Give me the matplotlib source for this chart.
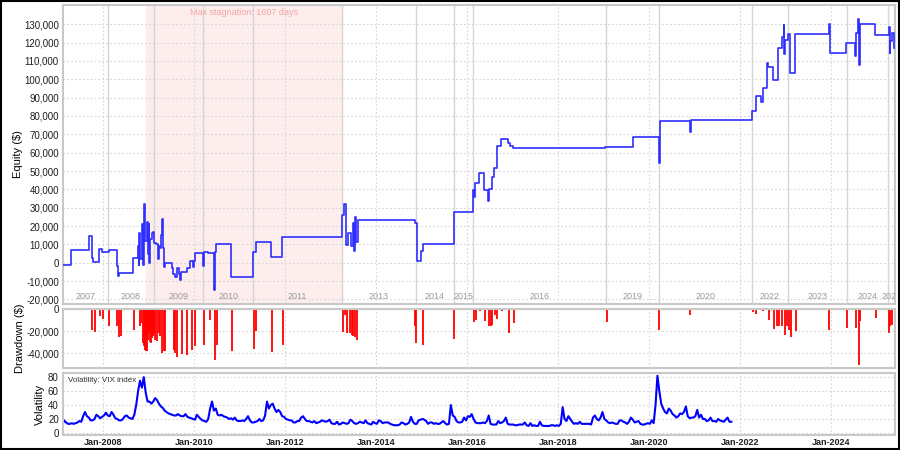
import matplotlib
matplotlib.use("Agg")
import matplotlib.pyplot as plt
from matplotlib.patches import Rectangle
from matplotlib.ticker import FuncFormatter

plt.rcParams['font.family'] = ['Liberation Sans', 'DejaVu Sans']

# equity curve (decimal year, $) - step series
eq_t = [2007.12, 2007.29, 2007.70, 2007.75, 2007.79, 2007.92, 2007.97, 2008.14, 2008.31, 2008.34,
        2008.36, 2008.65, 2008.76, 2008.78, 2008.80, 2008.82, 2008.85, 2008.87, 2008.89, 2008.91,
        2008.93, 2008.96, 2008.98, 2009.00, 2009.02, 2009.04, 2009.07, 2009.09, 2009.11, 2009.16,
        2009.21, 2009.23, 2009.25, 2009.27, 2009.29, 2009.31, 2009.34, 2009.36, 2009.51, 2009.54,
        2009.58, 2009.63, 2009.67, 2009.69, 2009.71, 2009.84, 2009.91, 2009.98, 2010.00, 2010.02,
        2010.20, 2010.21, 2010.31, 2010.45, 2010.46, 2010.48, 2010.81, 2011.30, 2011.36, 2011.69,
        2011.93, 2013.25, 2013.30, 2013.35, 2013.38, 2013.46, 2013.49, 2013.52, 2013.55, 2013.57,
        2013.61, 2014.86, 2014.91, 2015.00, 2015.03, 2015.72, 2016.14, 2016.15, 2016.18, 2016.27,
        2016.37, 2016.47, 2016.49, 2016.56, 2016.60, 2016.65, 2016.74, 2016.91, 2016.95, 2017.02,
        2019.03, 2019.65, 2020.23, 2020.25, 2020.90, 2020.92, 2022.26, 2022.35, 2022.47, 2022.50,
        2022.59, 2022.61, 2022.73, 2022.84, 2022.92, 2022.96, 2022.98, 2023.00, 2023.06, 2023.11,
        2023.21, 2023.96, 2023.98, 2024.34, 2024.54, 2024.56, 2024.59, 2024.61, 2024.64, 2024.98,
        2025.27, 2025.29, 2025.31, 2025.35, 2025.38]
eq_v = [-1000, 6700, 14300, 2500, 500, 7400, 5600, 7000, -1600, -7000,
        -5500, 2500, 9000, -1000, 16000, 2000, 21000, -1500, 22000, 32000,
        12000, 22000, 5000, 21000, 0, 13000, 16000, 17000, 11000, 10000,
        2000, 9000, 8000, 15000, 24000, 8000, -2500, 0, -3000, -6000,
        -8000, -3000, -6000, -9500, -5000, -3000, 700, -2500, 700, 5200,
        -2000, 5800, 5300, -14700, 6000, 10300, -7800, 6100, 11300, 2900,
        14000, 26000, 32000, 9500, 16000, 9000, 21900, 6500, 24700, 11400,
        23400, 21800, 700, 6200, 10200, 27600, 39800, 35800, 43500, 49000,
        39500, 33500, 40400, 46800, 51700, 63500, 67400, 65000, 63500, 62400,
        63000, 68700, 54200, 77000, 71000, 78000, 82600, 90800, 87700, 95000,
        109000, 106800, 99500, 117300, 123300, 129500, 113600, 121300, 124600, 103500,
        124600, 130000, 114500, 120000, 112700, 125300, 133000, 107700, 130000, 124400,
        128500, 114500, 120800, 125300, 117300]

# drawdown bars
dd_t = [2007.75, 2007.82, 2007.93, 2007.99, 2008.14, 2008.31, 2008.35, 2008.40, 2008.67, 2008.81,
        2008.84, 2008.87, 2008.90, 2008.92, 2008.94, 2008.96, 2008.98, 2009.00, 2009.03, 2009.05,
        2009.07, 2009.09, 2009.11, 2009.14, 2009.18, 2009.22, 2009.25, 2009.29, 2009.33, 2009.36,
        2009.55, 2009.58, 2009.63, 2009.73, 2009.85, 2009.95, 2010.02, 2010.22, 2010.35, 2010.46,
        2010.50, 2010.83, 2011.32, 2011.36, 2011.71, 2011.95, 2013.27, 2013.32, 2013.37, 2013.43,
        2013.47, 2013.50, 2013.54, 2013.58, 2014.86, 2014.89, 2015.03, 2015.72, 2016.16, 2016.19,
        2016.29, 2016.40, 2016.49, 2016.52, 2016.56, 2016.62, 2016.65, 2016.76, 2016.92, 2017.03,
        2019.07, 2020.23, 2020.90, 2022.28, 2022.35, 2022.50, 2022.64, 2022.75, 2022.81, 2022.86,
        2022.92, 2022.99, 2023.04, 2023.08, 2023.12, 2023.23, 2023.96, 2024.35, 2024.55, 2024.61,
        2024.65, 2024.99, 2025.27, 2025.31, 2025.34]
dd_v = [-18700, -20800, -5900, -8700, -15700, -15700, -25700, -24800, -19300, -15700,
        -13000, -30900, -34000, -37000, -38500, -38500, -27800, -21700, -30000, -30900,
        -26000, -24800, -21700, -27800, -29400, -21700, -24800, -40000, -38500, -38500,
        -37000, -40000, -43100, -40600, -41500, -37000, -34000, -32400, -9600, -46100,
        -32400, -38500, -36400, -20200, -39400, -32400, -21200, -5000, -21700, -21700,
        -23300, -24200, -25400, -27800, -15000, -31000, -32400, -27200, -11700, -9600,
        -2000, -11100, -15000, -15700, -14100, -5000, -9000, -1500, -21700, -12600,
        -12000, -18700, -5000, -2600, -4100, -2000, -9600, -18100, -15000, -15700,
        -15000, -23300, -15700, -18700, -25400, -20200, -18700, -17200, -17200, -50700,
        -11100, -8000, -21700, -15700, -14100]

# VIX, two readings per month (first half, second half), Feb-2007 .. Oct-2021
vix_start = (2007, 2)
vix_v = [11, 18, 15, 13, 13, 14, 13, 14, 15, 17, 16, 24, 30, 24, 22, 18, 18, 20, 26, 24, 21, 23,
         25, 29, 25, 24, 30, 26, 21, 20, 18, 18, 20, 24, 25, 22, 21, 20, 26, 40, 60, 75, 65, 80, 58, 45,
         45, 42, 45, 50, 47, 42, 38, 36, 32, 30, 28, 27, 26, 25, 25, 27, 25, 24, 24, 27, 23, 22, 21, 20,
         19, 26, 23, 20, 18, 17, 16, 20, 35, 45, 32, 35, 26, 25, 26, 24, 23, 22, 20, 21, 19, 22, 18, 17,
         17, 18, 17, 20, 24, 18, 15, 15, 16, 17, 20, 17, 18, 25, 45, 35, 40, 42, 35, 30, 33, 30, 24, 23,
         20, 19, 18, 18, 15, 15, 17, 17, 22, 24, 20, 17, 17, 16, 15, 17, 14, 15, 16, 18, 17, 16, 17, 19,
         14, 13, 13, 16, 12, 13, 15, 14, 13, 14, 19, 17, 14, 13, 14, 16, 15, 14, 18, 14, 13, 12, 16, 14,
         13, 18, 17, 14, 15, 15, 15, 13, 12, 11, 11, 11, 12, 15, 14, 12, 13, 15, 23, 16, 13, 13, 18, 19,
         20, 19, 17, 13, 15, 15, 13, 14, 13, 13, 15, 17, 14, 12, 13, 40, 25, 23, 17, 15, 15, 16, 22, 18,
         24, 23, 27, 20, 15, 14, 14, 14, 15, 14, 17, 25, 13, 12, 12, 12, 17, 14, 15, 17, 22, 13, 12, 12,
         12, 11, 11, 12, 12, 12, 15, 11, 10, 14, 10, 11, 10, 10, 16, 11, 10, 10, 10, 10, 11, 11, 10, 11,
         10, 13, 37, 20, 17, 24, 20, 16, 13, 14, 13, 16, 13, 13, 13, 13, 13, 12, 22, 25, 20, 18, 22, 30,
         20, 18, 15, 14, 15, 14, 13, 13, 18, 18, 16, 15, 13, 16, 22, 19, 15, 16, 17, 13, 12, 12, 13, 14,
         13, 18, 14, 40, 82, 60, 42, 35, 30, 28, 35, 32, 27, 25, 22, 24, 28, 27, 30, 38, 24, 21, 22, 22,
         24, 33, 22, 26, 20, 20, 17, 18, 22, 17, 17, 16, 20, 18, 17, 16, 19, 22, 16, 16]

year_bounds = [2008.11, 2009.12, 2010.20, 2011.30, 2013.25, 2014.88, 2015.71, 2016.13,
               2019.05, 2020.22, 2022.26, 2023.05, 2024.35, 2025.25]
year_labels = ['2007', '2008', '2009', '2010', '2011', '2013', '2014', '2015', '2016',
               '2019', '2020', '2022', '2023', '2024', '2025']

stagnation = (2008.94, 2013.25)
stagnation_text = "Max stagnation: 1607 days"

x_ticks = [2008, 2010, 2012, 2014, 2016, 2018, 2020, 2022, 2024]
x_labels = ['Jan-%d' % y for y in x_ticks]
x_min, x_max = 2007.12, 2025.41

# vix times: mid of each half month
vix_t = []
y0, m0 = vix_start
for i in range(len(vix_v)):
    k = (m0 - 1) * 2 + i
    vix_t.append(y0 + k / 24.0 + 1 / 48.0)

fig = plt.figure(figsize=(9, 4.5), dpi=100)
fig.patch.set_facecolor('white')

ax1 = fig.add_axes([63 / 900, 1 - 304 / 450, 832 / 900, 299 / 450])
ax2 = fig.add_axes([63 / 900, 1 - 368 / 450, 832 / 900, 59 / 450])
ax3 = fig.add_axes([63 / 900, 1 - 435 / 450, 832 / 900, 62 / 450])

spine_col = '#c8c8c8'
grid_col = '#d6d6d6'
comma = FuncFormatter(lambda v, p: '{:,.0f}'.format(v))

for ax in (ax1, ax2, ax3):
    ax.set_xlim(x_min, x_max)
    ax.set_xticks(x_ticks)
    for s in ax.spines.values():
        s.set_color(spine_col)
        s.set_linewidth(1.5)
    ax.grid(True, color=grid_col, linestyle=(0, (1.5, 2)), linewidth=0.8)
    ax.set_axisbelow(True)
    ax.tick_params(length=0, pad=3, labelsize=7, colors='#1e1e1e')
ax1.tick_params(labelbottom=False)
ax2.tick_params(labelbottom=False)
ax3.set_xticklabels(x_labels, fontweight='bold', fontsize=6.5)
ax3.tick_params(axis='x', pad=2)

# equity
ax1.axvspan(stagnation[0], stagnation[1], color='#fdeded', zorder=0)
for b in year_bounds:
    ax1.axvline(b, color='#d4d4d4', linewidth=1.0, zorder=0.5)
ax1.step(eq_t, eq_v, where='post', color='#2e2eff', linewidth=1.2, zorder=3)
ax1.set_ylim(-22500, 140500)
ax1.set_yticks(range(-20000, 130001, 10000))
ax1.yaxis.set_major_formatter(comma)
ax1.text((stagnation[0] + stagnation[1]) / 2, 136500, stagnation_text, ha='center', va='center',
         fontsize=6.5, color='#f4a4a4')
edges = [x_min] + year_bounds + [x_max]
for i, lab in enumerate(year_labels):
    ax1.text((edges[i] + edges[i + 1]) / 2, -18300, lab, ha='center', va='center',
             fontsize=6.5, color='#9a9a9a', clip_on=True)
ax1.set_ylabel('Equity ($)', fontsize=8)
ax1.yaxis.set_label_coords(-0.048, 0.5)

# drawdown
ax2.vlines(dd_t, 0, dd_v, color='#ff0000', linewidth=1.3)
ax2.set_ylim(-53500, 0)
ax2.set_yticks([0, -20000, -40000])
ax2.yaxis.set_major_formatter(comma)
ax2.set_ylabel('Drawdown ($)', fontsize=8)
ax2.yaxis.set_label_coords(-0.046, 0.5)

# volatility
ax3.plot(vix_t, vix_v, color='#0000ff', linewidth=1.5)
ax3.set_ylim(-3, 86)
ax3.set_yticks([0, 20, 40, 60, 80])
ax3.set_ylabel('Volatility', fontsize=8)
ax3.yaxis.set_label_coords(-0.022, 0.5)
ax3.text(0.006, 0.88, 'Volatility: VIX index', transform=ax3.transAxes, fontsize=5.8,
         color='#333333', va='center', zorder=5)

fig.patches.append(Rectangle((0.001, 0.002), 0.998, 0.996, transform=fig.transFigure,
                             fill=False, edgecolor='black', linewidth=1.5))

fig.savefig('out.png', dpi=100)
